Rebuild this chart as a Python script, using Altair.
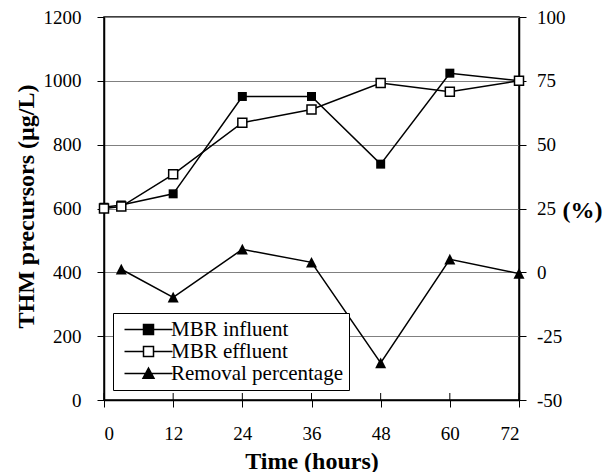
import altair as alt
import pandas as pd

# ---- data ----
time_conc = [0, 3, 12, 24, 36, 48, 60, 72]
influent = [604, 611, 646, 951, 951, 739, 1024, 1000]
effluent = [600, 606, 707, 869, 910, 993, 966, 1000]
time_rm = [3, 12, 24, 36, 48, 60, 72]
removal = [1.2, -9.8, 9.0, 3.9, -35.5, 5.1, -0.5]
series = ["MBR influent", "MBR effluent", "Removal percentage"]
x_ticks = [0, 12, 24, 36, 48, 60, 72]
left_ticks = [0, 200, 400, 600, 800, 1000, 1200]
right_ticks = [-50, -25, 0, 25, 50, 75, 100]

df_conc = pd.DataFrame(
    {"time": time_conc * 2,
     "value": influent + effluent,
     "series": [series[0]] * len(time_conc) + [series[1]] * len(time_conc)}
)
df_rm = pd.DataFrame({"time": time_rm, "value": removal, "series": series[2]})
df_ticks = pd.DataFrame({"time": x_ticks})

W, H = 415, 383
FONT = "Liberation Serif"

x_enc = alt.X(
    "time:Q",
    scale=alt.Scale(domain=[0, 72], nice=False, zero=False),
    axis=alt.Axis(values=x_ticks, title="Time (hours)", grid=False, tickSize=7,
                  labelPadding=17, titleY=68, titleBaseline="alphabetic",
                  labelExpr="'' + datum.value"),
)
y_left = alt.Y(
    "value:Q",
    scale=alt.Scale(domain=[0, 1200], nice=False, zero=False),
    axis=alt.Axis(values=left_ticks, title="THM precursors (µg/L)", grid=True,
                  labelExpr="'' + datum.value",
                  gridColor="#808080", gridWidth=1, tickSize=7, labelPadding=16,
                  titleX=-71, titleY=189, titleBaseline="alphabetic", titleAngle=-90),
)
y_right = alt.Y(
    "value:Q",
    scale=alt.Scale(domain=[-50, 100], nice=False, zero=False),
    axis=alt.Axis(orient="right", values=right_ticks, title="(%)", grid=False,
                  labelExpr="'' + datum.value",
                  tickSize=7, labelPadding=10.5, titleAngle=0, titleAlign="left",
                  titleX=43, titleY=193, titleBaseline="middle"),
)

conc_line = alt.Chart(df_conc).mark_line(color="black", strokeWidth=1.5).encode(
    x=x_enc, y=y_left, detail="series:N"
)
inf_pts = alt.Chart(df_conc).transform_filter(
    alt.datum.series == series[0]
).mark_point(shape="square", size=81, filled=True, color="black", opacity=1).encode(
    x=x_enc, y=y_left
)
eff_pts = alt.Chart(df_conc).transform_filter(
    alt.datum.series == series[1]
).mark_point(shape="square", size=81, fill="white", stroke="black", strokeWidth=1.5,
             opacity=1).encode(x=x_enc, y=y_left)

legend_paths = [
    "M-1,0H2.8M4.8,0H8.6M2.8,-1H4.8V1H2.8Z",
    "M-1,0H2.8M4.8,0H8.6M2.8,-1H4.8V1H2.8Z",
    "M-1,0H8.6M3.8,-1.1L4.9,0.95H2.7Z",
]
legend_def = alt.Legend(
    title=None, orient="none", legendX=9, legendY=296, strokeColor="black",
    fillColor="white", padding=6, labelFont=FONT, labelFontSize=21, labelLimit=400,
    labelColor="black", labelOffset=31, rowPadding=0, symbolSize=100,
    symbolStrokeWidth=1.5, symbolOpacity=1,
)
legend_layer = alt.Chart(df_conc).transform_filter("false").mark_point(
    size=100, opacity=1, strokeWidth=1.5
).encode(
    x=x_enc, y=y_left,
    shape=alt.Shape("series:N", scale=alt.Scale(domain=series, range=legend_paths),
                    legend=legend_def),
    fill=alt.Fill("series:N", scale=alt.Scale(domain=series, range=["black", "white", "black"]),
                  legend=legend_def),
    stroke=alt.Stroke("series:N", scale=alt.Scale(domain=series, range=["black", "black", "black"]),
                      legend=legend_def),
)

inner_ticks = alt.Chart(df_ticks).mark_rule(color="black", strokeWidth=1).encode(
    x=alt.X("time:Q", scale=alt.Scale(domain=[0, 72], nice=False, zero=False)),
    y=alt.value(H - 7), y2=alt.value(H),
)

rm_line = alt.Chart(df_rm).mark_line(color="black", strokeWidth=1.5).encode(
    x=x_enc, y=y_right
)
rm_pts = alt.Chart(df_rm).mark_point(
    shape="M0,-1L1,0.95H-1Z", size=121, filled=True, color="black", opacity=1
).encode(x=x_enc, y=y_right)

left = alt.layer(conc_line, inf_pts, eff_pts, legend_layer, inner_ticks)
right = alt.layer(rm_line, rm_pts)

chart = alt.layer(left, right).resolve_scale(y="independent").properties(
    width=W, height=H, background="white",
    autosize=alt.AutoSizeParams(type="none"),
    padding={"left": 104, "top": 17, "right": 86, "bottom": 72},
).configure(
    font=FONT
).configure_view(
    stroke="black", strokeWidth=1.5
).configure_axis(
    labelFont=FONT, labelFontSize=19, labelColor="black",
    titleFont=FONT, titleFontSize=24, titleFontWeight="bold", titleColor="black",
    domainColor="black", domainWidth=1.5, tickColor="black", tickWidth=1,
).configure_legend(
    labelFont=FONT, labelFontSize=21, labelColor="black", labelLimit=400,
)

chart.save("out.html", embed_options={"renderer": "svg", "actions": False})
